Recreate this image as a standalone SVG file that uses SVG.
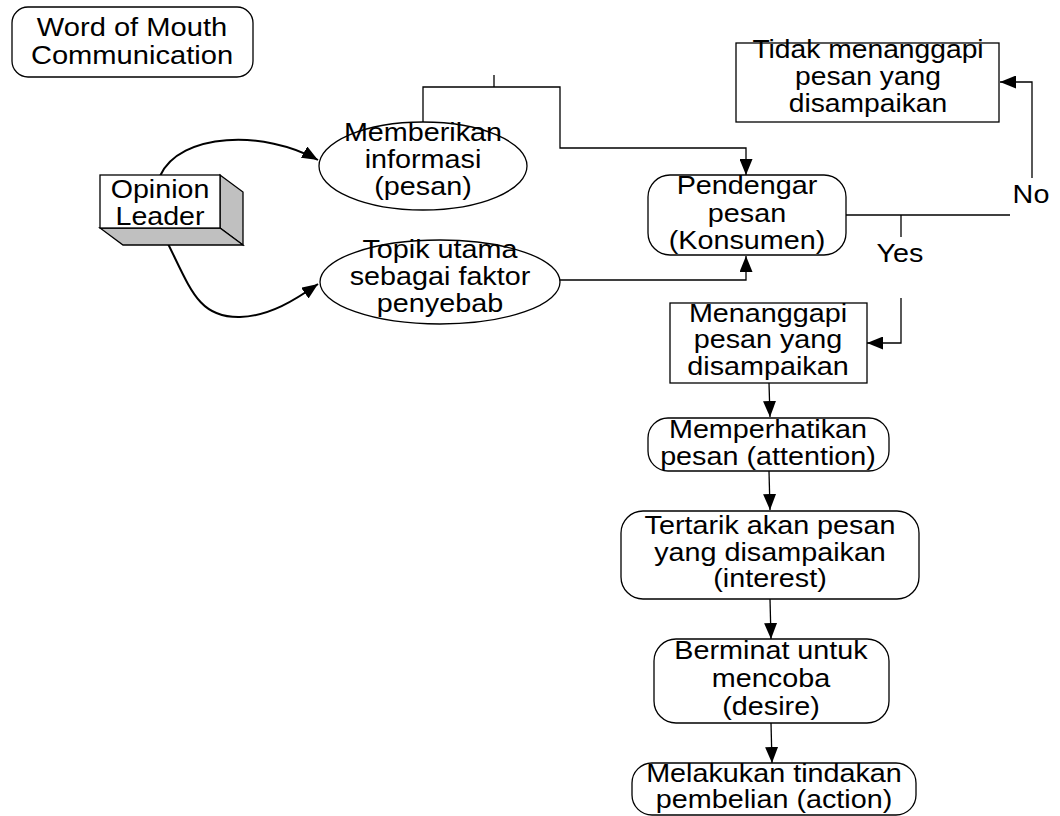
<svg xmlns="http://www.w3.org/2000/svg" width="1060" height="816" viewBox="0 0 1060 816">
<style>
.box{fill:#fff;stroke:#000;stroke-width:1.3}
.t{font-family:"Liberation Sans",Arial,sans-serif;font-size:25px;text-anchor:middle;fill:#000}
.c{fill:none;stroke:#000;stroke-width:1.3}
.cv{fill:none;stroke:#000;stroke-width:2}
.side{fill:#c0c0c0;stroke:#000;stroke-width:1.3}
</style>
<defs>
<marker id="ah" markerUnits="userSpaceOnUse" markerWidth="17" markerHeight="13" refX="16" refY="6.5" orient="auto">
<path d="M0,0 L16,6.5 L0,13 z" fill="#000"/>
</marker>
</defs>
<rect width="1060" height="816" fill="#fff"/>
<g id="connectors">
<path class="cv" d="M160,176 C180,132 265,130 318,160" marker-end="url(#ah)"/>
<path class="cv" d="M160,228 C190,285 195,318 240,317 C270,316 295,300 318,284" marker-end="url(#ah)"/>
<path class="c" d="M423,122 V87 H560 V148 H746 V175" marker-end="url(#ah)"/>
<path class="c" d="M494,75 V87"/>
<path class="c" d="M560,280 H746 V256" marker-end="url(#ah)"/>
<path class="c" d="M846,215 H1010"/>
<path class="c" d="M1032,178 V82 H1000" marker-end="url(#ah)"/>
<path class="c" d="M901,215 V237"/>
<path class="c" d="M901,298 V343 H867" marker-end="url(#ah)"/>
<path class="c" d="M769,383 L770,417" marker-end="url(#ah)"/>
<path class="c" d="M769,471 L770,510" marker-end="url(#ah)"/>
<path class="c" d="M770,599 L771,639" marker-end="url(#ah)"/>
<path class="c" d="M771,723 L772,763" marker-end="url(#ah)"/>
</g>
<g id="wom">
<rect class="box" x="12" y="7" width="241" height="70" rx="16"/>
<text class="t" transform="translate(132 0) scale(1.12 1)" style="font-size:26px"><tspan x="0" y="36">Word of Mouth</tspan><tspan x="0" y="64">Communication</tspan></text>
</g>
<g id="opinion">
<polygon class="side" points="220,175 243,192 243,245 220,228"/>
<polygon class="side" points="100,228 220,228 243,245 123,245"/>
<rect class="box" x="100" y="175" width="120" height="53"/>
<text class="t" transform="translate(160 0) scale(1.1 1)" style="font-size:26px"><tspan x="0" y="198">Opinion</tspan><tspan x="0" y="225">Leader</tspan></text>
</g>
<g id="memberikan">
<ellipse class="box" cx="423" cy="166" rx="104" ry="44"/>
<text class="t" transform="translate(423 0) scale(1.15 1)"><tspan x="0" y="141">Memberikan</tspan><tspan x="0" y="168">informasi</tspan><tspan x="0" y="195">(pesan)</tspan></text>
</g>
<g id="topik">
<ellipse class="box" cx="440" cy="282" rx="120" ry="42"/>
<text class="t" transform="translate(440 0) scale(1.15 1)"><tspan x="0" y="258">Topik utama</tspan><tspan x="0" y="285">sebagai faktor</tspan><tspan x="0" y="312">penyebab</tspan></text>
</g>
<g id="pendengar">
<rect class="box" x="648" y="175" width="198" height="80" rx="22"/>
<text class="t" transform="translate(747 0) scale(1.15 1)"><tspan x="0" y="194">Pendengar</tspan><tspan x="0" y="222">pesan</tspan><tspan x="0" y="249">(Konsumen)</tspan></text>
</g>
<g id="tidak">
<rect class="box" x="736" y="43" width="263" height="79"/>
<text class="t" transform="translate(868 0) scale(1.13 1)"><tspan x="0" y="58">Tidak menanggapi</tspan><tspan x="0" y="85">pesan yang</tspan><tspan x="0" y="112">disampaikan</tspan></text>
</g>
<g id="labels">
<text class="t" transform="translate(1031 0) scale(1.15 1)" x="0" y="203">No</text>
<text class="t" transform="translate(900 0) scale(1.15 1)" x="0" y="262">Yes</text>
</g>
<g id="menanggapi">
<rect class="box" x="670" y="303" width="197" height="80"/>
<text class="t" transform="translate(768 0) scale(1.15 1)"><tspan x="0" y="322">Menanggapi</tspan><tspan x="0" y="348">pesan yang</tspan><tspan x="0" y="375">disampaikan</tspan></text>
</g>
<g id="memperhatikan">
<rect class="box" x="648" y="418" width="241" height="53" rx="20"/>
<text class="t" transform="translate(768 0) scale(1.15 1)"><tspan x="0" y="438">Memperhatikan</tspan><tspan x="0" y="465">pesan (attention)</tspan></text>
</g>
<g id="tertarik">
<rect class="box" x="621" y="511" width="298" height="88" rx="22"/>
<text class="t" transform="translate(770 0) scale(1.15 1)"><tspan x="0" y="534">Tertarik akan pesan</tspan><tspan x="0" y="561">yang disampaikan</tspan><tspan x="0" y="587">(interest)</tspan></text>
</g>
<g id="berminat">
<rect class="box" x="654" y="639" width="235" height="84" rx="22"/>
<text class="t" transform="translate(771 0) scale(1.15 1)"><tspan x="0" y="659">Berminat untuk</tspan><tspan x="0" y="687">mencoba</tspan><tspan x="0" y="715">(desire)</tspan></text>
</g>
<g id="melakukan">
<rect class="box" x="632" y="763" width="284" height="52" rx="20"/>
<text class="t" transform="translate(774 0) scale(1.15 1)"><tspan x="0" y="782">Melakukan tindakan</tspan><tspan x="0" y="808">pembelian (action)</tspan></text>
</g>
</svg>
